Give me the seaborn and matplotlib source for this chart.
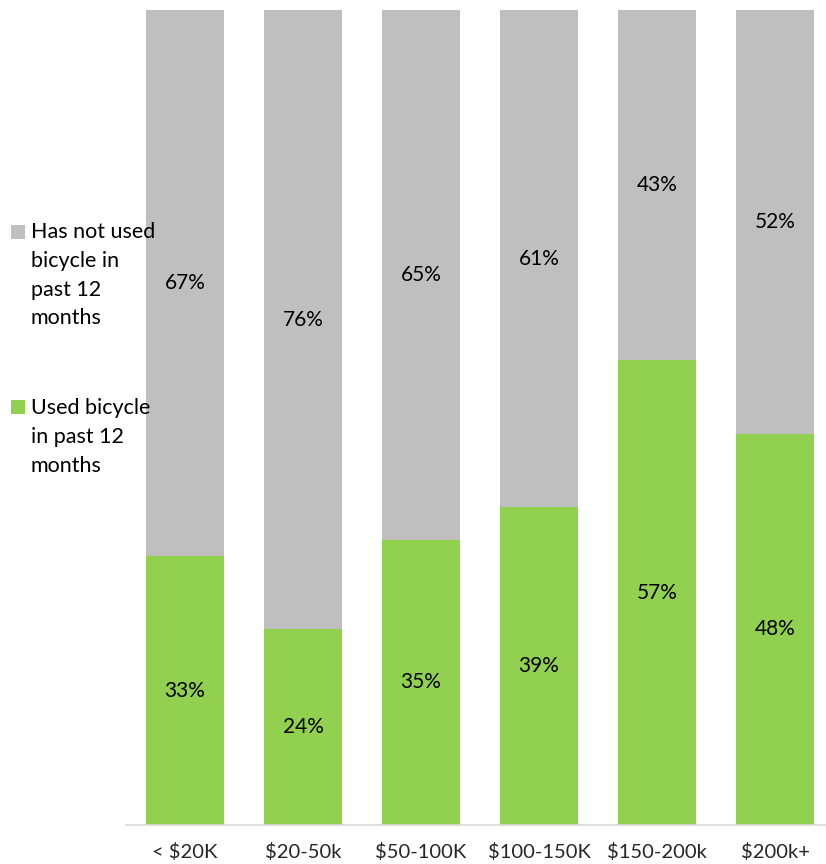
import matplotlib
matplotlib.use("Agg")
import matplotlib.pyplot as plt
import seaborn as sns
import pandas as pd
from matplotlib.patches import Rectangle

categories = ["< $20K", "$20-50k", "$50-100K", "$100-150K", "$150-200k", "$200k+"]
used = [33, 24, 35, 39, 57, 48]
not_used = [67, 76, 65, 61, 43, 52]
series_names = ["Has not used\nbicycle in\npast 12\nmonths", "Used bicycle\nin past 12\nmonths"]

GREEN = "#92D050"
GRAY = "#BFBFBF"

sns.set_theme(style="white")
plt.rcParams["font.family"] = ["Lato", "DejaVu Sans"]

df = pd.DataFrame({"cat": categories, "used": used, "not_used": not_used})
df["total"] = df["used"] + df["not_used"]

W, H = 826, 864
fig = plt.figure(figsize=(8.26, 8.64), dpi=100)
ax = fig.add_axes([126 / W, 39 / H, 708 / W, 815 / H])

sns.barplot(data=df, x="cat", y="total", color=GRAY, width=0.66, ax=ax,
            saturation=1, edgecolor="none")
sns.barplot(data=df, x="cat", y="used", color=GREEN, width=0.66, ax=ax,
            saturation=1, edgecolor="none")

for i, (u, n) in enumerate(zip(used, not_used)):
    ax.text(i, u / 2, f"{u}%", ha="center", va="center", fontsize=15, color="#000000")
    ax.text(i, u + n / 2, f"{n}%", ha="center", va="center", fontsize=15, color="#000000")

ax.set_xlim(-0.5, 5.5)
ax.set_ylim(0, 100)
ax.set_xlabel("")
ax.set_ylabel("")
ax.set_yticks([])
ax.tick_params(axis="x", length=0, pad=13, labelsize=14.5)
for s in ["top", "right", "left"]:
    ax.spines[s].set_visible(False)
ax.spines["bottom"].set_color("#D9D9D9")
ax.spines["bottom"].set_linewidth(1.2)

def fx(px):
    return px / W
def fy(py):
    return 1 - py / H

fig.patches.append(Rectangle((fx(11), fy(239)), 14 / W, 14 / H, transform=fig.transFigure,
                             facecolor=GRAY, edgecolor="none"))
fig.text(fx(31), fy(222), series_names[0], ha="left", va="top", fontsize=15.5,
         linespacing=1.55, color="#000000")
fig.patches.append(Rectangle((fx(11), fy(414)), 14 / W, 14 / H, transform=fig.transFigure,
                             facecolor=GREEN, edgecolor="none"))
fig.text(fx(31), fy(398), series_names[1], ha="left", va="top", fontsize=15.5,
         linespacing=1.55, color="#000000")

fig.savefig("out.png", dpi=100)
